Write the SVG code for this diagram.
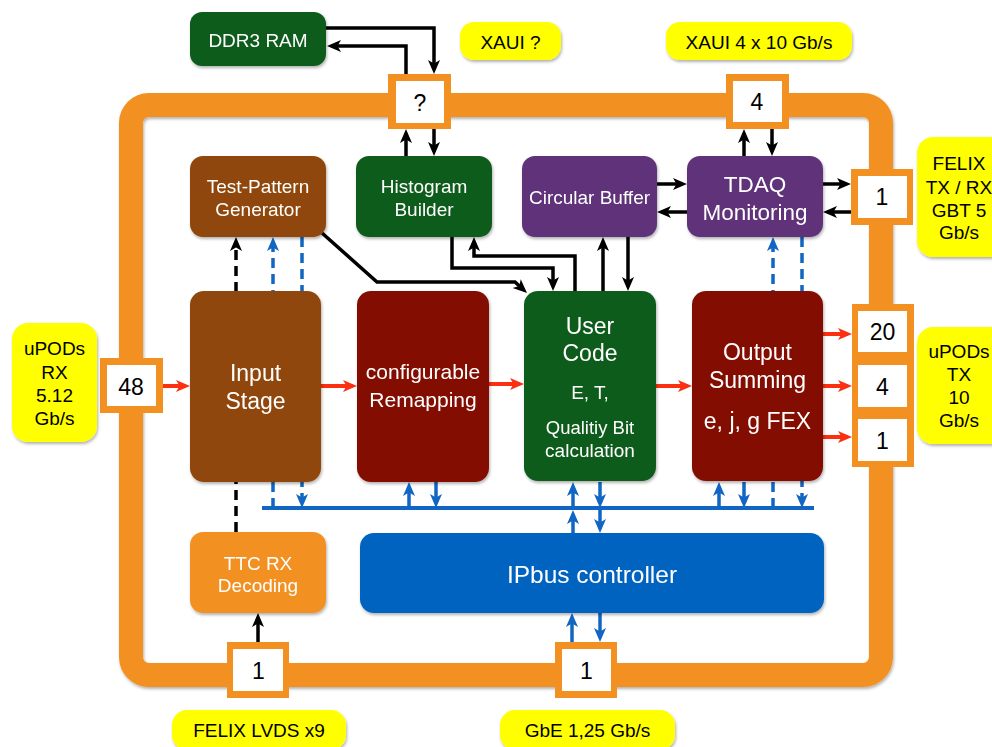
<svg xmlns="http://www.w3.org/2000/svg" width="992" height="747" viewBox="0 0 992 747">
  <defs>
    <filter id="shadow" x="-10%" y="-10%" width="120%" height="125%">
      <feDropShadow dx="1" dy="2" stdDeviation="1.5" flood-color="#000" flood-opacity="0.3"/>
    </filter>
    <marker id="ah-k" viewBox="0 0 14 14" refX="9.5" refY="7" markerWidth="14" markerHeight="14" markerUnits="userSpaceOnUse" orient="auto">
      <path d="M0,1 L14,7 L0,13 L3.5,7 z" fill="#000"/>
    </marker>
    <marker id="ah-b" viewBox="0 0 14 14" refX="9.5" refY="7" markerWidth="14" markerHeight="14" markerUnits="userSpaceOnUse" orient="auto">
      <path d="M0,1 L14,7 L0,13 L3.5,7 z" fill="#1166C4"/>
    </marker>
    <marker id="ah-r" viewBox="0 0 14 14" refX="9.5" refY="7" markerWidth="14" markerHeight="14" markerUnits="userSpaceOnUse" orient="auto">
      <path d="M0,1 L14,7 L0,13 L3.5,7 z" fill="#FA3010"/>
    </marker>
    <style>
      .node { filter: url(#shadow); }
      .green { fill: #105C1C; }
      .brown { fill: #8F4708; }
      .red { fill: #821003; }
      .purple { fill: #5E3379; }
      .blue { fill: #0664BF; }
      .orange { fill: #F29121; }
      .label { fill: #FFFF00; filter: url(#shadow); }
      .port { fill: #F29121; }
      .portin { fill: #FFFFFF; }
      text { font-family: "Liberation Sans", Arial, sans-serif; text-anchor: middle; }
      .wt { fill: #FFFFFF; }
      .bt { fill: #000000; }
      .k { fill: none; stroke: #000; stroke-width: 3.5; marker-end: url(#ah-k); }
      .kd { fill: none; stroke: #000; stroke-width: 3.5; stroke-dasharray: 10 6; marker-end: url(#ah-k); }
      .b { fill: none; stroke: #1166C4; stroke-width: 3.5; marker-end: url(#ah-b); }
      .bda { fill: none; stroke: #1166C4; stroke-width: 3.5; stroke-dasharray: 10 6; marker-end: url(#ah-b); }
      .r { fill: none; stroke: #FA3010; stroke-width: 4; marker-end: url(#ah-r); }
    </style>
  </defs>

  <rect width="992" height="747" fill="#FFFFFF"/>

  <!-- board outline -->
  <g id="board">
    <rect x="131" y="105" width="750" height="570" rx="18" fill="none" stroke="#F29121" stroke-width="24" filter="url(#shadow)"/>
  </g>

  <!-- connectors -->
  <g id="connectors">
    <!-- DDR3 link -->
    <path class="k" d="M326,28 H434 V69.5"/>
    <path class="k" d="M406,74 V46 H331.5"/>
    <path class="k" d="M406,156 V133.5"/>
    <path class="k" d="M434,129 V151.5"/>
    <!-- XAUI link -->
    <path class="k" d="M744,156 V133.5"/>
    <path class="k" d="M772,129 V151.5"/>
    <!-- circular buffer / TDAQ / FELIX -->
    <path class="k" d="M657,184 H682.5"/>
    <path class="k" d="M687,212 H661.5"/>
    <path class="k" d="M823,184 H846.5"/>
    <path class="k" d="M851,212 H827.5"/>
    <!-- into / out of user code -->
    <path class="k" d="M322,233 L377,282 H515 L523.7,290"/>
    <path class="k" d="M452,237 V268 H553 V286.5"/>
    <path class="k" d="M575,291 V256 H474 V241.5"/>
    <path class="k" d="M603,291 V241.5"/>
    <path class="k" d="M628,237 V286.5"/>
    <!-- TTC -->
    <path class="k" d="M258,642 V617.5"/>
    <path class="kd" d="M236,532 V241.5"/>
    <!-- control paths (dashed) -->
    <path class="bda" d="M273,508 V241.5"/>
    <path class="bda" d="M302,237 V503.5"/>
    <path class="bda" d="M773,508 V241.5"/>
    <path class="bda" d="M802,237 V503.5"/>
    <!-- IPbus -->
    <path d="M262,508 H814" fill="none" stroke="#1166C4" stroke-width="4"/>
    <path class="b" d="M409,508 V486.5"/>
    <path class="b" d="M436,482 V503.5"/>
    <path class="b" d="M573,508 V486.5"/>
    <path class="b" d="M600,482 V503.5"/>
    <path class="b" d="M719,508 V486.5"/>
    <path class="b" d="M744,482 V503.5"/>
    <path class="b" d="M573,533 V514.5"/>
    <path class="b" d="M600,510 V528.5"/>
    <path class="b" d="M572,642 V617.5"/>
    <path class="b" d="M600,613 V637.5"/>
    <!-- data path -->
    <path class="r" d="M163,386 H185.5"/>
    <path class="r" d="M321,386 H352.5"/>
    <path class="r" d="M489,384 H519.5"/>
    <path class="r" d="M656,386 H687.5"/>
    <path class="r" d="M823,334 H847.5"/>
    <path class="r" d="M823,386 H847.5"/>
    <path class="r" d="M823,437 H847.5"/>
  </g>

  <!-- processing blocks -->
  <g id="ddr3" class="node">
    <rect class="green" x="190" y="12" width="136" height="54" rx="12"/>
    <text class="wt" x="258" y="46.5" font-size="19">DDR3 RAM</text>
  </g>
  <g id="test-pattern" class="node">
    <rect class="brown" x="190" y="156" width="136" height="81" rx="13"/>
    <text class="wt" x="258" y="192.5" font-size="19">Test-Pattern</text>
    <text class="wt" x="258" y="216" font-size="19">Generator</text>
  </g>
  <g id="histogram" class="node">
    <rect class="green" x="356" y="156" width="136" height="81" rx="13"/>
    <text class="wt" x="424" y="192.5" font-size="19">Histogram</text>
    <text class="wt" x="424" y="216" font-size="19">Builder</text>
  </g>
  <g id="circular-buffer" class="node">
    <rect class="purple" x="522" y="156" width="135" height="81" rx="13"/>
    <text class="wt" x="589.5" y="204" font-size="19">Circular Buffer</text>
  </g>
  <g id="tdaq" class="node">
    <rect class="purple" x="687" y="156" width="136" height="81" rx="13"/>
    <text class="wt" x="755" y="192" font-size="22.5">TDAQ</text>
    <text class="wt" x="755" y="220" font-size="22.5">Monitoring</text>
  </g>
  <g id="input-stage" class="node">
    <rect class="brown" x="190" y="291" width="131" height="191" rx="14"/>
    <text class="wt" x="255.5" y="380.5" font-size="23">Input</text>
    <text class="wt" x="255.5" y="408.5" font-size="23">Stage</text>
  </g>
  <g id="remapping" class="node">
    <rect class="red" x="357" y="291" width="132" height="191" rx="14"/>
    <text class="wt" x="423" y="379" font-size="21">configurable</text>
    <text class="wt" x="423" y="407" font-size="21">Remapping</text>
  </g>
  <g id="user-code" class="node">
    <rect class="green" x="524" y="291" width="132" height="190" rx="14"/>
    <text class="wt" x="590" y="333.5" font-size="23">User</text>
    <text class="wt" x="590" y="361" font-size="23">Code</text>
    <text class="wt" x="590" y="398.5" font-size="19">E, T,</text>
    <text class="wt" x="590" y="433.5" font-size="18.5">Qualitiy Bit</text>
    <text class="wt" x="590" y="457" font-size="19">calculation</text>
  </g>
  <g id="output-summing" class="node">
    <rect class="red" x="692" y="291" width="131" height="190" rx="14"/>
    <text class="wt" x="757.5" y="360" font-size="23">Output</text>
    <text class="wt" x="757.5" y="387.5" font-size="23">Summing</text>
    <text class="wt" x="757.5" y="428.5" font-size="23">e, j, g FEX</text>
  </g>
  <g id="ttc-rx" class="node">
    <rect class="orange" x="190" y="532" width="136" height="81" rx="13"/>
    <text class="wt" x="258" y="569.5" font-size="19">TTC RX</text>
    <text class="wt" x="258" y="592" font-size="19">Decoding</text>
  </g>
  <g id="ipbus" class="node">
    <rect class="blue" x="360" y="533" width="464" height="80" rx="14"/>
    <text class="wt" x="592" y="583" font-size="24.5">IPbus controller</text>
  </g>

  <!-- front-panel ports -->
  <g id="port-ddr">
    <rect class="port" x="388" y="74" width="63" height="55"/>
    <rect class="portin" x="396" y="81" width="48" height="42"/>
    <text class="bt" x="420" y="111" font-size="23">?</text>
  </g>
  <g id="port-xaui">
    <rect class="port" x="726" y="74" width="63" height="55"/>
    <rect class="portin" x="733" y="81" width="49" height="41"/>
    <text class="bt" x="757" y="110" font-size="23">4</text>
  </g>
  <g id="port-felix">
    <rect class="port" x="851" y="169" width="62" height="56"/>
    <rect class="portin" x="858" y="176" width="49" height="42"/>
    <text class="bt" x="882" y="205" font-size="23">1</text>
  </g>
  <g id="port-rx">
    <rect class="port" x="100" y="358" width="63" height="55"/>
    <rect class="portin" x="107" y="365" width="49" height="41"/>
    <text class="bt" x="131" y="395" font-size="23">48</text>
  </g>
  <g id="port-tx">
    <rect class="port" x="852" y="304" width="62" height="163"/>
    <rect class="portin" x="858" y="311" width="49" height="41"/>
    <rect class="portin" x="858" y="365" width="49" height="42"/>
    <rect class="portin" x="858" y="419" width="49" height="42"/>
    <text class="bt" x="882.5" y="340" font-size="23">20</text>
    <text class="bt" x="882.5" y="394.5" font-size="23">4</text>
    <text class="bt" x="882.5" y="448.5" font-size="23">1</text>
  </g>
  <g id="port-lvds">
    <rect class="port" x="227" y="642" width="62" height="56"/>
    <rect class="portin" x="233" y="649" width="50" height="42"/>
    <text class="bt" x="258.5" y="678.5" font-size="23">1</text>
  </g>
  <g id="port-gbe">
    <rect class="port" x="555" y="642" width="62" height="56"/>
    <rect class="portin" x="562" y="649" width="49" height="42"/>
    <text class="bt" x="586.5" y="678.5" font-size="23">1</text>
  </g>

  <!-- interface labels -->
  <g id="lbl-xaui-q">
    <rect class="label" x="460" y="22" width="101" height="38" rx="14"/>
    <text class="bt" x="510.5" y="48.5" font-size="19">XAUI ?</text>
  </g>
  <g id="lbl-xaui">
    <rect class="label" x="666" y="22" width="186" height="38" rx="14"/>
    <text class="bt" x="759" y="48.5" font-size="19">XAUI 4 x 10 Gb/s</text>
  </g>
  <g id="lbl-felix-gbt">
    <rect class="label" x="917" y="137" width="90" height="120" rx="16"/>
    <text class="bt" x="959" y="169.5" font-size="19">FELIX</text>
    <text class="bt" x="959" y="193.5" font-size="19">TX / RX</text>
    <text class="bt" x="959" y="217" font-size="19">GBT 5</text>
    <text class="bt" x="959" y="238.5" font-size="19">Gb/s</text>
  </g>
  <g id="lbl-upods-rx">
    <rect class="label" x="12" y="323" width="85" height="119" rx="16"/>
    <text class="bt" x="54.5" y="355" font-size="19">uPODs</text>
    <text class="bt" x="54.5" y="378.5" font-size="19">RX</text>
    <text class="bt" x="54.5" y="402" font-size="19">5.12</text>
    <text class="bt" x="54.5" y="425" font-size="19">Gb/s</text>
  </g>
  <g id="lbl-upods-tx">
    <rect class="label" x="917" y="327" width="90" height="117" rx="16"/>
    <text class="bt" x="959" y="357.5" font-size="19">uPODs</text>
    <text class="bt" x="959" y="381" font-size="19">TX</text>
    <text class="bt" x="959" y="403.5" font-size="19">10</text>
    <text class="bt" x="959" y="427" font-size="19">Gb/s</text>
  </g>
  <g id="lbl-lvds">
    <rect class="label" x="172" y="710" width="174" height="40" rx="15"/>
    <text class="bt" x="259" y="736.5" font-size="19">FELIX LVDS x9</text>
  </g>
  <g id="lbl-gbe">
    <rect class="label" x="500" y="710" width="175" height="40" rx="15"/>
    <text class="bt" x="587.5" y="736.5" font-size="19">GbE 1,25 Gb/s</text>
  </g>
</svg>
